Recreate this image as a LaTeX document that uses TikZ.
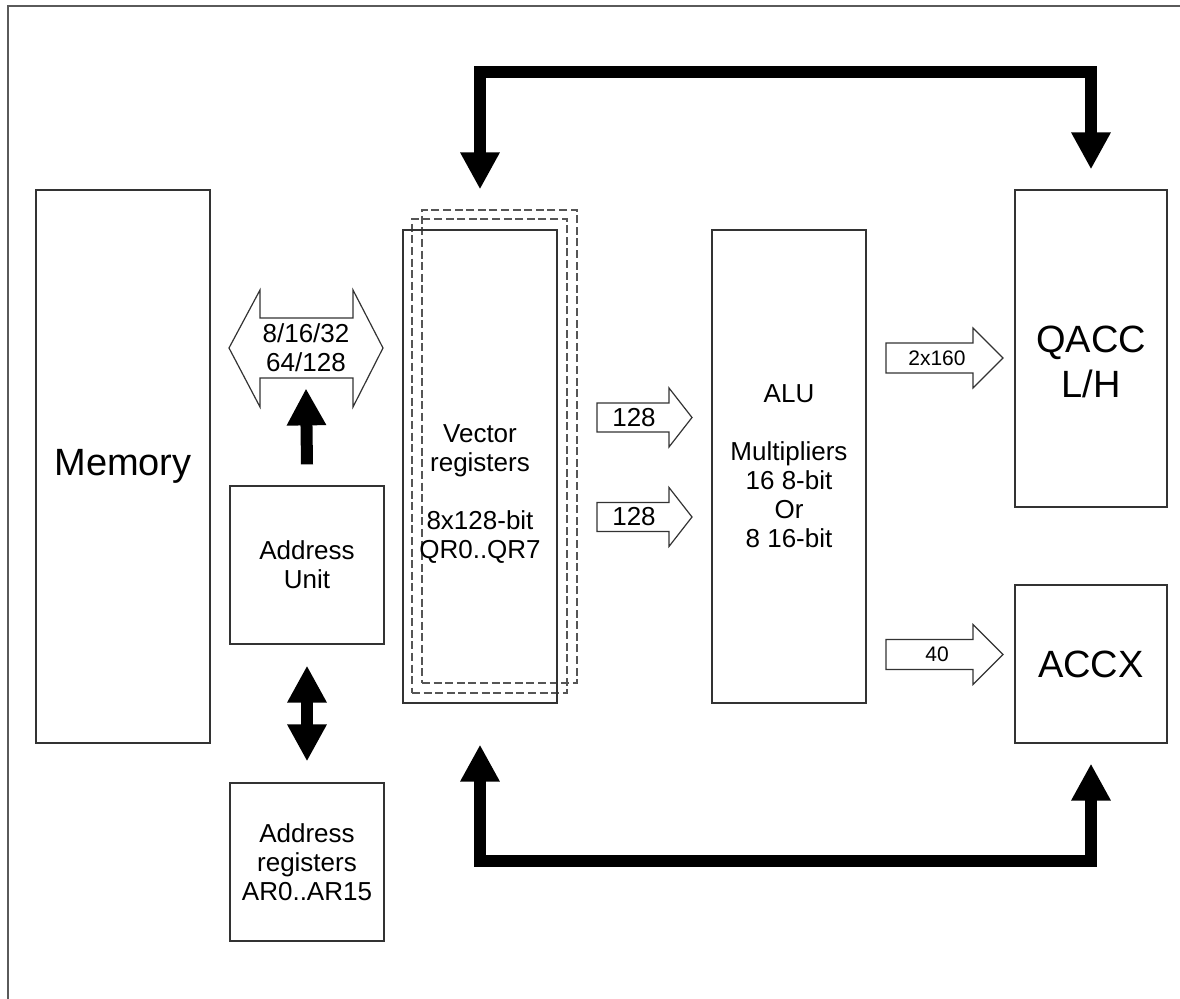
\documentclass[tikz,border=0pt]{standalone}
\usepackage{fontspec}
\setmainfont{Liberation Sans}
\usetikzlibrary{arrows.meta}
\definecolor{boxc}{HTML}{333333}
\definecolor{framec}{HTML}{5A5A5A}
\definecolor{dashc}{HTML}{555555}
\tikzset{bhead/.tip={Triangle[width=18.5pt,length=18.5pt]}}
\newcommand\myharrow[6]{%
  \draw[hollow] (#1,#4-#5) -- (#2,#4-#5) -- (#2,#4-#6) -- (#3,#4) -- (#2,#4+#6) -- (#2,#4+#5) -- (#1,#4+#5) -- cycle;}
\begin{document}
\begin{tikzpicture}[x=0.5pt,y=-0.5pt,
  box/.style={draw=boxc, line width=0.6pt, inner sep=0pt, align=center},
  dashbox/.style={draw=dashc, line width=0.6pt, dash pattern=on 4pt off 1.8pt, inner sep=0pt},
  big/.style={font=\fontsize{19}{22.5}\selectfont},
  small/.style={font=\fontsize{13}{14.5}\selectfont, align=center},
  tiny/.style={font=\fontsize{10.5}{12}\selectfont},
  hollow/.style={draw=boxc, line width=0.6pt, fill=white, line join=miter},
  bus/.style={line width=6pt, draw=black, line join=miter}
]
\useasboundingbox (0,0) rectangle (1180,999);
% frame
\draw[framec, line width=1pt] (8,999) -- (8,6.5) -- (1180,6.5);

% boxes
\node[box, big, minimum width=87pt, minimum height=276.5pt] (mem) at (123,466.5) {Memory};
\node[box, small, minimum width=77pt, minimum height=79pt] (au) at (307,565) {Address\\Unit};
\node[box, small, minimum width=77pt, minimum height=79pt] (ar) at (307,862) {Address\\registers\\AR0..AR15};
\node[dashbox, minimum width=77.5pt, minimum height=236.5pt] (vb) at (499.5,446.5) {};
\node[dashbox, minimum width=77.5pt, minimum height=237pt] (vm) at (489.5,456) {};
\node[box, minimum width=77pt, minimum height=236.5pt] (vs) at (480,466.5) {};
\node[small] (vtext) at (480,494.5) {Vector\\registers\\[14.5pt]8x128-bit\\QR0..QR7};
\node[box, small, minimum width=77pt, minimum height=236.5pt] (alu) at (789,466.5) {ALU\\[14.5pt]Multipliers\\16 8-bit\\Or\\8 16-bit};
\node[box, minimum width=76pt, minimum height=158.5pt] (qacc) at (1091,348.5) {};
\node[big, align=center] (qtext) at (1091,362) {QACC\\L/H};
\node[box, big, minimum width=76pt, minimum height=79pt] (accx) at (1091,664) {ACCX};

% hollow double arrow (memory bus)
\draw[hollow] (229,348) -- (260,290) -- (260,318) -- (353,318) -- (353,290) -- (383,348)
  -- (353,407) -- (353,378) -- (260,378) -- (260,407) -- cycle;
\node[small, minimum width=46.5pt, minimum height=30pt, inner sep=0pt] (bw) at (306,348) {8/16/32\\64/128};

% hollow arrows
\myharrow{597}{669}{692}{417.5}{14.5}{29.5}
\node[small] (a1) at (634,417.5) {128};
\myharrow{597}{669}{692}{517}{14.5}{29.5}
\node[small] (a2) at (634,517) {128};
\myharrow{886}{973}{1003}{358}{15}{30}
\node[tiny] (a3) at (937,358) {2x160};
\myharrow{886}{973}{1003}{654.5}{15}{30}
\node[tiny] (a4) at (937,654.5) {40};

% black arrows near address unit
\draw[bus, -{bhead}] ([yshift=10.5pt]au.north) -- ([yshift=-5pt]bw.south);
\draw[bus, {bhead}-{bhead}] ([yshift=-10.5pt]au.south) -- ([yshift=10.5pt]ar.north);

% top bus
\coordinate (topbar) at (0,72);
\coordinate (vtop) at ([yshift=20pt]vs.north);
\coordinate (qtop) at ([yshift=10pt]qacc.north);
\draw[bus, {bhead}-{bhead}] (vtop) -- (vtop |- topbar) -| (qtop);

% bottom bus
\coordinate (botbar) at (0,861);
\coordinate (vbot) at ([yshift=-20.5pt]vs.south);
\coordinate (abot) at ([yshift=-10pt]accx.south);
\draw[bus, {bhead}-{bhead}] (vbot) -- (vbot |- botbar) -| (abot);
\end{tikzpicture}
\end{document}
